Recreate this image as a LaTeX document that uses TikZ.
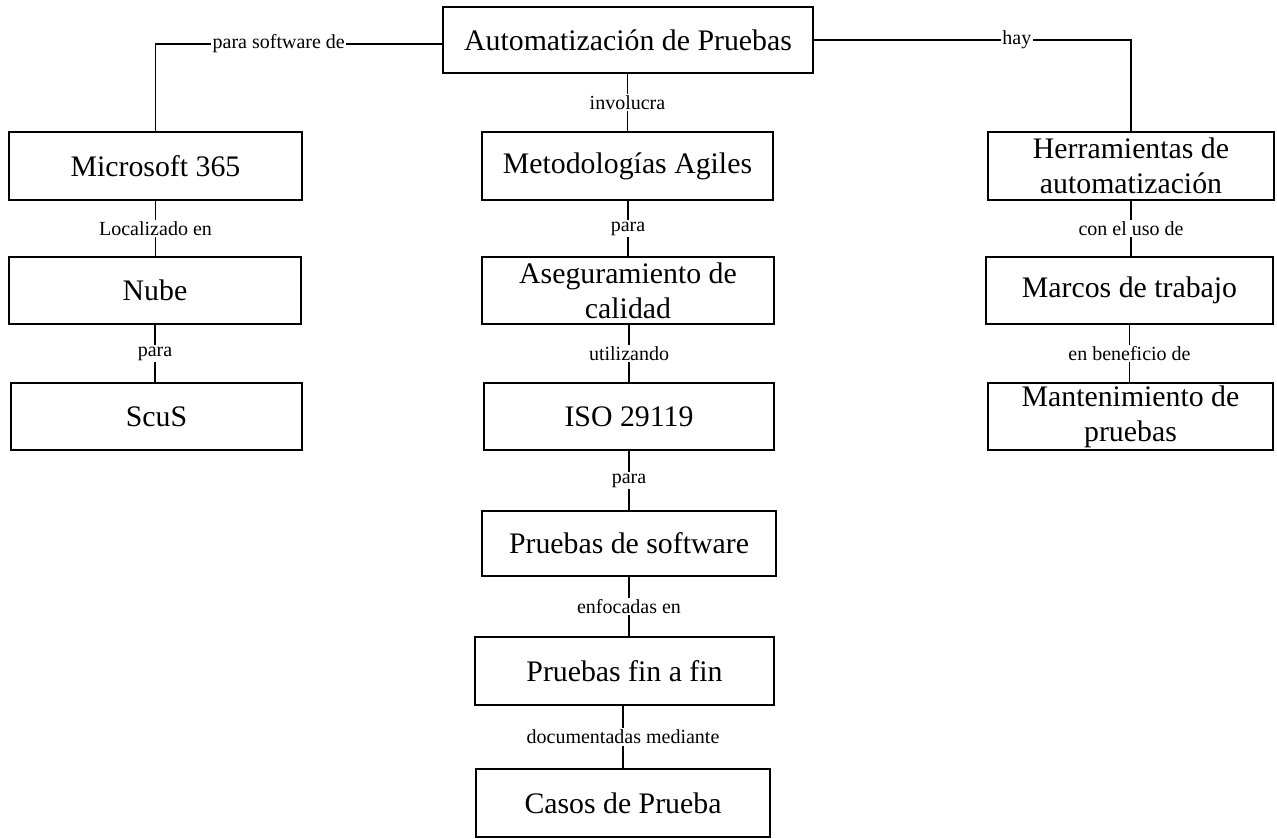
\documentclass[tikz,border=0pt]{standalone}
\usepackage{fontspec}
\setmainfont{Liberation Serif}
\begin{document}
\begin{tikzpicture}[x=1pt,y=-1pt,
  box/.style={draw, line width=1.6pt, inner sep=0pt, align=center,
    font=\fontsize{29.8}{35}\selectfont},
  lbl/.style={fill=white, draw=none, inner sep=1.5pt, font=\fontsize{20}{22}\selectfont},
  conn/.style={line width=1.6pt}]
\useasboundingbox (0,0) rectangle (1277,838);
% boxes
\node[box, minimum width=370pt, minimum height=66pt] (top) at (628,40) {Automatización de Pruebas};
\node[box, minimum width=293pt, minimum height=68pt] (ms) at (155.5,166) {Microsoft 365};
\node[box, minimum width=291pt, minimum height=68pt] (met) at (627.5,166) {Metodologías Agiles};
\node[box, minimum width=286pt, minimum height=68pt] (her) at (1131,166) {Herramientas de\\automatización};
\node[box, minimum width=292pt, minimum height=67pt] (nube) at (155,290.5) {Nube};
\node[box, minimum width=292pt, minimum height=67pt] (ase) at (628,290.5) {Aseguramiento de\\calidad};
\node[box, minimum width=287pt, minimum height=67pt] (mar) at (1129.5,290.5) {Marcos de trabajo};
\node[box, minimum width=291pt, minimum height=67pt] (scus) at (156.5,416.5) {ScuS};
\node[box, minimum width=290pt, minimum height=67pt] (iso) at (629,416.5) {ISO 29119};
\node[box, minimum width=285pt, minimum height=67pt] (man) at (1130.5,416.5) {Mantenimiento de\\pruebas};
\node[box, minimum width=294pt, minimum height=65pt] (psw) at (629,543.5) {Pruebas de software};
\node[box, minimum width=299pt, minimum height=68pt] (pff) at (624.5,671) {Pruebas fin a fin};
\node[box, minimum width=294pt, minimum height=68pt] (cas) at (623,803) {Casos de Prueba};
% connector corners
\coordinate (cl) at ([yshift=-4pt]top.west -| ms.north);
\coordinate (cr) at (top.east -| her.north);
% connector lines
\draw[conn] ([yshift=-4pt]top.west) -- (cl) -- (ms.north);
\draw[conn] (top.east) -- (cr) -- (her.north);
\draw[conn] (met.north |- top.south) -- (met.north);
\draw[conn] (ms.south) -- (ms.south |- nube.north);
\draw[conn] (nube.south) -- (nube.south |- scus.north);
\draw[conn] (ase.north |- met.south) -- (ase.north);
\draw[conn] (iso.north |- ase.south) -- (iso.north);
\draw[conn] (psw.north |- iso.south) -- (psw.north);
\draw[conn] (psw.south) -- (psw.south |- pff.north);
\draw[conn] (cas.north |- pff.south) -- (cas.north);
\draw[conn] (her.south) -- (her.south |- mar.north);
\draw[conn] (mar.south) -- (mar.south |- man.north);
% labels on top of the lines
\path ([yshift=-4pt]top.west) -- node[lbl, pos=0.57] (l1) {para software de} (cl);
\path (top.east) -- node[lbl, pos=0.64] (l2) {hay} (cr);
\path (met.north |- top.south) -- node[lbl] (l3) {involucra} (met.north);
\path (ms.south) -- node[lbl] (l4) {Localizado en} (ms.south |- nube.north);
\path (nube.south) -- node[lbl] (l5) {para} (nube.south |- scus.north);
\path (ase.north |- met.south) -- node[lbl] (l6) {para} (ase.north);
\path (iso.north |- ase.south) -- node[lbl] (l7) {utilizando} (iso.north);
\path (psw.north |- iso.south) -- node[lbl] (l8) {para} (psw.north);
\path (psw.south) -- node[lbl] (l9) {enfocadas en} (psw.south |- pff.north);
\path (cas.north |- pff.south) -- node[lbl] (l10) {documentadas mediante} (cas.north);
\path (her.south) -- node[lbl] (l11) {con el uso de} (her.south |- mar.north);
\path (mar.south) -- node[lbl] (l12) {en beneficio de} (mar.south |- man.north);
\end{tikzpicture}
\end{document}
